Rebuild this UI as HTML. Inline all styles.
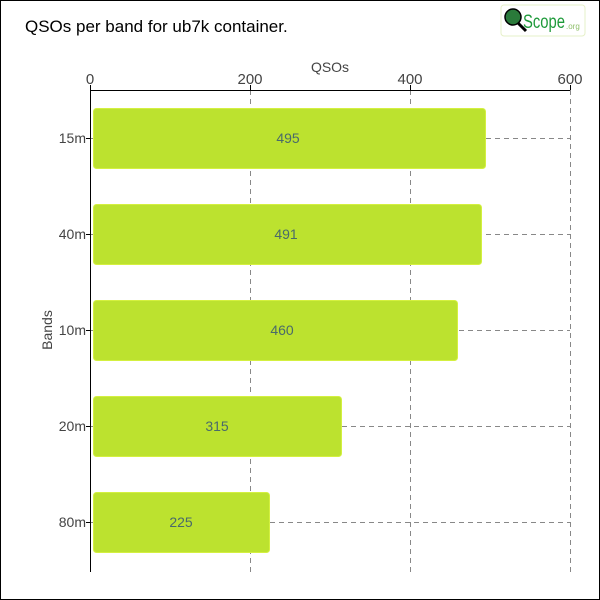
<!DOCTYPE html>
<html><head><style>
html,body{margin:0;padding:0;background:#fff}
svg{display:block}
text{font-family:"Liberation Sans","DejaVu Sans",sans-serif}
</style></head><body>
<svg width="600" height="600" xmlns="http://www.w3.org/2000/svg">
<rect x="0.5" y="0.5" width="599" height="599" fill="#fff" stroke="#000"/>
<text x="25" y="32" font-size="17" fill="#000">QSOs per band for ub7k container.</text>
<!-- logo -->
<rect x="501" y="5" width="84" height="31" rx="3" fill="#fff" stroke="#e6f0c8"/>
<circle cx="513" cy="17" r="8" fill="#2a7a3a" stroke="#000" stroke-width="1.5"/>
<line x1="518" y1="23" x2="526" y2="31" stroke="#000" stroke-width="3"/>
<text x="523" y="28" font-size="19" fill="#1e9a3a" font-family="Liberation Sans Narrow,Liberation Sans,sans-serif" textLength="42" lengthAdjust="spacingAndGlyphs">Scope</text>
<text x="566" y="29" font-size="8" fill="#8fbf6a">.org</text>
<!-- grid -->
<g stroke="#888" stroke-dasharray="5,4" stroke-width="1">
<line x1="250.5" y1="90" x2="250.5" y2="572"/>
<line x1="410.5" y1="90" x2="410.5" y2="572"/>
<line x1="570.5" y1="90" x2="570.5" y2="572"/>
<line x1="90" y1="138.5" x2="570" y2="138.5"/>
<line x1="90" y1="234.5" x2="570" y2="234.5"/>
<line x1="90" y1="330.5" x2="570" y2="330.5"/>
<line x1="90" y1="426.5" x2="570" y2="426.5"/>
<line x1="90" y1="522.5" x2="570" y2="522.5"/>
</g>
<!-- bars -->
<g fill="#bce22f" stroke="#d4f040" stroke-width="1">
<rect x="93.5" y="108.5" width="392" height="60" rx="3"/>
<rect x="93.5" y="204.5" width="388" height="60" rx="3"/>
<rect x="93.5" y="300.5" width="364" height="60" rx="3"/>
<rect x="93.5" y="396.5" width="248" height="60" rx="3"/>
<rect x="93.5" y="492.5" width="176" height="60" rx="3"/>
</g>
<g font-size="14" fill="#4a6a6a" text-anchor="middle">
<text x="288" y="143">495</text>
<text x="286" y="239">491</text>
<text x="282" y="335">460</text>
<text x="217" y="431">315</text>
<text x="181" y="527">225</text>
</g>
<!-- axes -->
<g stroke="#000" stroke-width="1">
<line x1="90" y1="90.5" x2="570" y2="90.5"/>
<line x1="90.5" y1="90" x2="90.5" y2="572"/>
<line x1="90.5" y1="85" x2="90.5" y2="90"/>
<line x1="250.5" y1="85" x2="250.5" y2="90"/>
<line x1="410.5" y1="85" x2="410.5" y2="90"/>
<line x1="570.5" y1="85" x2="570.5" y2="90"/>
<line x1="86" y1="138.5" x2="90" y2="138.5"/>
<line x1="86" y1="234.5" x2="90" y2="234.5"/>
<line x1="86" y1="330.5" x2="90" y2="330.5"/>
<line x1="86" y1="426.5" x2="90" y2="426.5"/>
<line x1="86" y1="522.5" x2="90" y2="522.5"/>
</g>
<g font-size="15" fill="#444" text-anchor="middle">
<text x="90" y="84">0</text>
<text x="250" y="84">200</text>
<text x="410" y="84">400</text>
<text x="570" y="84">600</text>
<text x="330" y="72" font-size="14">QSOs</text>
</g>
<g font-size="14" fill="#444" text-anchor="end">
<text x="86" y="143">15m</text>
<text x="86" y="239">40m</text>
<text x="86" y="335">10m</text>
<text x="86" y="431">20m</text>
<text x="86" y="527">80m</text>
</g>
<text x="52" y="330" font-size="14" fill="#444" text-anchor="middle" transform="rotate(-90 52 330)">Bands</text>
</svg>
</body></html>
